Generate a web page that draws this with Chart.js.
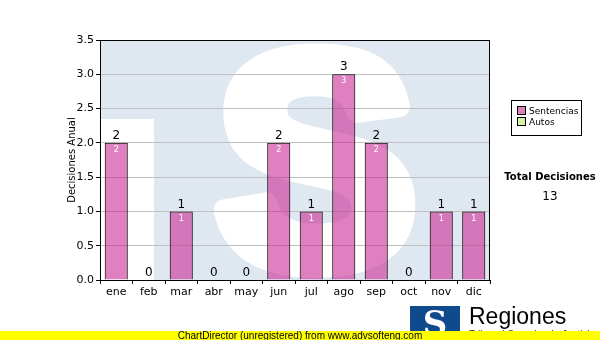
<!DOCTYPE html>
<html lang="es">
<head>
  <meta charset="UTF-8" />
  <title>Decisiones Anual</title>
  <script src="https://cdn.jsdelivr.net/npm/chart.js"></script>
  <style>
    body { margin: 0; width: 600px; height: 340px; position: relative; overflow: hidden; background: #fff; font-family: "DejaVu Sans", sans-serif; }
    #chart { position: absolute; left: 0; top: 0; }
    .legend { position: absolute; left: 511px; top: 100px; width: 71px; height: 36px; border: 1px solid #000; box-sizing: border-box; font-size: 9px; padding: 5px 0 0 5px; line-height: 11px; white-space: nowrap; }
    .legend span { display: inline-block; width: 7px; height: 7px; border: 1px solid #000; margin-right: 3px; vertical-align: -1px; }
    .total { position: absolute; left: 500px; width: 100px; text-align: center; }
    .footer { position: absolute; left: 0; top: 331px; width: 600px; height: 9px; background: #ffff00; font: 10px "Liberation Sans", Arial, sans-serif; line-height: 9px; text-align: center; color: #000; }
    .logo { position: absolute; left: 410px; top: 306px; width: 50px; height: 28px; background: #0f4a8c; color: #fff; font: bold 34px "DejaVu Serif", serif; line-height: 34px; text-align: center; overflow: hidden; }
    .reg { position: absolute; left: 469px; top: 303px; font: 23px "Liberation Sans", Arial, sans-serif; color: #000; }
    .sub { position: absolute; left: 469px; top: 329px; font: 10px "Liberation Sans", Arial, sans-serif; color: #333; }
  </style>
</head>
<body>
  <canvas id="chart" width="600" height="340"></canvas>
  <div class="reg">Regiones</div>
  <div class="sub">Tribunal Superior de Justicia</div>
  <div class="logo">S</div>
  <div class="legend">
    <div><span style="background:#e080c0"></span>Sentencias</div>
    <div><span style="background:#d6f0a8"></span>Autos</div>
  </div>
  <div class="total" style="top:171px;font-size:10px;font-weight:bold;">Total Decisiones</div>
  <div class="total" style="top:189px;font-size:12px;">13</div>
  <div class="footer">ChartDirector (unregistered) from www.advsofteng.com</div>
  <script>
    // datos
    const months = ['ene', 'feb', 'mar', 'abr', 'may', 'jun', 'jul', 'ago', 'sep', 'oct', 'nov', 'dic'];
    const sentencias = [2, 0, 1, 0, 0, 2, 1, 3, 2, 0, 1, 1];
    const autos = [0, 0, 0, 0, 0, 0, 0, 0, 0, 0, 0, 0];

    // marca de agua "TS" detras del area del grafico
    const watermark = {
      id: 'watermark',
      beforeDraw(chart) {
        const { ctx, chartArea: a } = chart;
        ctx.save();
        ctx.beginPath();
        ctx.rect(a.left, a.top, a.right - a.left, a.bottom - a.top);
        ctx.clip();
        ctx.fillStyle = '#dfe8f0';
        ctx.fillRect(a.left, a.top, a.right - a.left, a.bottom - a.top);
        ctx.fillStyle = '#fff';
        ctx.strokeStyle = '#fff';
        ctx.fillRect(a.left, 119, 54, a.bottom - 119);
        ctx.font = 'bold 300px "Liberation Sans", Arial, sans-serif';
        ctx.textAlign = 'center';
        ctx.textBaseline = 'alphabetic';
        ctx.lineWidth = 22;
        ctx.lineJoin = 'round';
        ctx.fillText('S', 316, 264);
        ctx.strokeText('S', 316, 264);
        ctx.restore();
      }
    };

    // borde y etiquetas de valores
    const labels = {
      id: 'labels',
      afterDatasetsDraw(chart) {
        const { ctx, chartArea: a } = chart;
        ctx.save();
        ctx.strokeStyle = '#000';
        ctx.lineWidth = 1;
        ctx.strokeRect(a.left + 0.5, a.top + 0.5, a.right - a.left - 1, a.bottom - a.top);
        ctx.textAlign = 'center';
        chart.getDatasetMeta(0).data.forEach((bar, i) => {
          ctx.fillStyle = '#000';
          ctx.font = '12px "DejaVu Sans"';
          ctx.textBaseline = 'bottom';
          ctx.fillText(sentencias[i] + autos[i], bar.x, bar.y - 1);
          if (sentencias[i] > 0) {
            ctx.fillStyle = '#fff';
            ctx.font = '8px "DejaVu Sans"';
            ctx.textBaseline = 'top';
            ctx.fillText(sentencias[i], bar.x, bar.y + 3);
          }
        });
        ctx.restore();
      }
    };

    new Chart(document.getElementById('chart'), {
      type: 'bar',
      data: {
        labels: months,
        datasets: [
          { label: 'Sentencias', data: sentencias, backgroundColor: 'rgba(203,43,150,0.6)', borderColor: '#000', borderWidth: 1, borderSkipped: 'bottom' },
          { label: 'Autos', data: autos, backgroundColor: 'rgba(190,230,120,0.6)', borderColor: '#000', borderWidth: 0 }
        ]
      },
      options: {
        responsive: false,
        animation: false,
        datasets: { bar: { categoryPercentage: 1, barPercentage: 0.71 } },
        layout: { padding: { left: 60, top: 40, right: 110, bottom: 40 } },
        plugins: { legend: { display: false }, tooltip: { enabled: false } },
        scales: {
          x: {
            stacked: true,
            grid: { drawOnChartArea: false, tickLength: 4, tickColor: '#000' },
            border: { color: '#000' },
            ticks: { color: '#000', font: { family: 'DejaVu Sans', size: 11 }, padding: 2 },
            afterFit(s) { s.height = 20; }
          },
          y: {
            stacked: true,
            min: 0, max: 3.5,
            grid: { color: '#c0c0c0', tickLength: 4, tickColor: '#000' },
            border: { color: '#000' },
            ticks: { stepSize: 0.5, color: '#000', font: { family: 'DejaVu Sans', size: 11 }, padding: 2, callback: v => v.toFixed(1) },
            title: { display: true, text: 'Decisiones Anual', color: '#000', font: { family: 'DejaVu Sans', size: 10 }, padding: { top: 6, bottom: 0 } },
            afterFit(s) { s.width = 40; }
          }
        }
      },
      plugins: [watermark, labels]
    });
  </script>
</body>
</html>
